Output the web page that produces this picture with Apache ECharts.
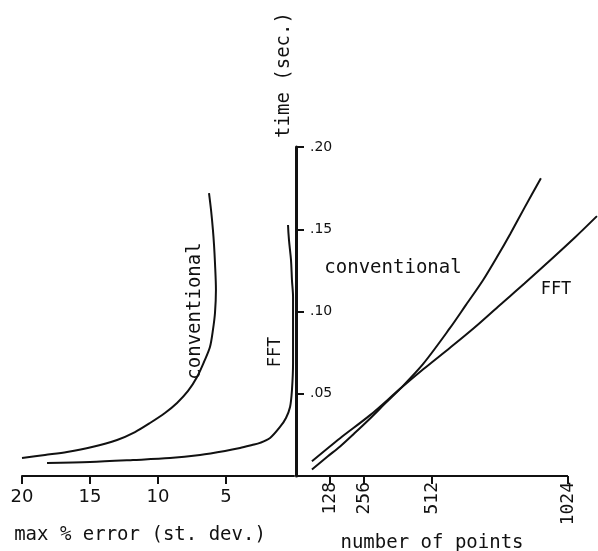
<!DOCTYPE html>
<html>
<head>
    <meta charset="utf-8"/>
    <title>FFT vs conventional</title>
    <script src="https://cdn.jsdelivr.net/npm/echarts@6/dist/echarts.min.js"></script>
    <style>
        html, body { margin: 0; padding: 0; background: #fff; }
        #main { width: 598px; height: 551px; }
    </style>
</head>
<body>
<div id="main"></div>
<script>
    // tick positions
    var timeTicks = [0.05, 0.10, 0.15, 0.20];
    var errTicks = [20, 15, 10, 5];
    var pointTicks = [128, 256, 512, 1024];

    // left panel: [max % error, time]
    var convError = [[20, 0.0109], [18.31, 0.0128], [16.69, 0.0146], [14.85, 0.0176], [13.01, 0.0219],
        [11.69, 0.0267], [10.59, 0.0322], [9.49, 0.0383], [8.60, 0.0444], [7.79, 0.0517], [7.13, 0.0602],
        [6.62, 0.0693], [6.18, 0.0784], [5.96, 0.0888], [5.81, 0.0991], [5.74, 0.1131], [5.81, 0.1295],
        [5.88, 0.1404], [5.96, 0.1495], [6.10, 0.1617], [6.25, 0.1720]];
    var fftError = [[18.16, 0.0079], [15.0, 0.0085], [11.84, 0.0097], [9.12, 0.0109], [6.91, 0.0128],
        [5.07, 0.0152], [3.97, 0.0170], [3.09, 0.0188], [2.50, 0.0201], [1.76, 0.0231], [1.03, 0.0298],
        [0.59, 0.0353], [0.29, 0.0419], [0.15, 0.0523], [0.07, 0.0687], [0.07, 0.0888], [0.07, 0.1088],
        [0.15, 0.1191], [0.22, 0.1313], [0.37, 0.1435], [0.44, 0.1526]];

    // right panel: [number of points, time]
    var convPoints = [[60, 0.004], [120, 0.012], [166, 0.018], [220, 0.026], [279, 0.035], [335, 0.044],
        [392, 0.053], [478, 0.068], [580, 0.090], [640, 0.104], [704, 0.119], [760, 0.134], [806, 0.147],
        [860, 0.163], [922, 0.181]];
    var fftPoints = [[60, 0.009], [166, 0.023], [279, 0.037], [392, 0.053], [480, 0.065], [580, 0.078],
        [670, 0.090], [768, 0.104], [860, 0.117], [956, 0.131], [1050, 0.145], [1133, 0.158]];

    var mono = 'DejaVu Sans Mono';
    var black = '#111';

    var chart = echarts.init(document.getElementById('main'));
    var lineStyle = {color: black, width: 2};

    var option = {
        backgroundColor: '#fff',
        animation: false,
        grid: [
            {left: 22, right: 304, top: 147, bottom: 75, containLabel: false, outerBoundsMode: 'none'},
            {left: 296, right: 0, top: 147, bottom: 75, containLabel: false, outerBoundsMode: 'none'}
        ],
        xAxis: [
            {
                gridIndex: 0, type: 'value', inverse: true, min: 0, max: 20,
                splitLine: {show: false},
                axisLine: {lineStyle: {color: black, width: 2}},
                axisTick: {length: 8, customValues: errTicks, lineStyle: {color: black, width: 2}},
                axisLabel: {
                    color: black, fontSize: 18, fontFamily: 'DejaVu Sans', margin: 12,
                    customValues: errTicks
                },
                name: 'max % error (st. dev.)', nameLocation: 'middle', nameGap: 50,
                nameTextStyle: {color: black, fontSize: 19, fontFamily: mono, padding: [0, 36, 0, 0]}
            },
            {
                // axis runs past 1024 so the FFT line can reach the right edge
                gridIndex: 1, type: 'value', min: 0, max: 1137,
                splitLine: {show: false},
                axisLine: {show: false},
                axisTick: {show: true, length: 8, customValues: pointTicks, lineStyle: {color: black, width: 2}},
                axisLabel: {
                    color: black, fontSize: 18, fontFamily: mono, rotate: 90, margin: 6,
                    customValues: pointTicks,
                    formatter: function (v) { return String(v); }
                },
                name: 'number of points', nameLocation: 'middle', nameGap: 54,
                nameTextStyle: {color: black, fontSize: 19, fontFamily: mono, padding: [0, 30, 0, 0]}
            }
        ],
        yAxis: [
            {gridIndex: 0, type: 'value', min: 0, max: 0.2, show: false},
            {
                gridIndex: 1, type: 'value', min: 0, max: 0.2, interval: 0.05,
                splitLine: {show: false},
                axisLine: {show: true, lineStyle: {color: black, width: 3}},
                axisTick: {show: true, inside: true, length: 8, lineStyle: {color: black, width: 2}},
                axisLabel: {
                    inside: true, color: black, fontSize: 14, fontFamily: 'DejaVu Sans', margin: 14,
                    formatter: function (v) {
                        if (v === 0) return '';
                        return '.' + String(Math.round(v * 100)).padStart(2, '0');
                    }
                }
            }
        ],
        series: [
            {name: 'conventional', type: 'line', xAxisIndex: 0, yAxisIndex: 0, data: convError,
                smooth: 0.3, showSymbol: false, clip: false, lineStyle: lineStyle},
            {name: 'FFT', type: 'line', xAxisIndex: 0, yAxisIndex: 0, data: fftError,
                smooth: 0.3, showSymbol: false, clip: false, lineStyle: lineStyle},
            {name: 'conventional', type: 'line', xAxisIndex: 1, yAxisIndex: 1, data: convPoints,
                smooth: 0.3, showSymbol: false, clip: false, lineStyle: lineStyle},
            {name: 'FFT', type: 'line', xAxisIndex: 1, yAxisIndex: 1, data: fftPoints,
                smooth: 0.3, showSymbol: false, clip: false, lineStyle: lineStyle,
                // x axis line only goes from 0 to 1024
                markLine: {
                    silent: true, symbol: 'none', label: {show: false},
                    lineStyle: {color: black, width: 2, type: 'solid'},
                    data: [[{coord: [0, 0]}, {coord: [1024, 0]}]]
                }}
        ],
        graphic: [
            {type: 'text', x: 284, y: 75, rotation: Math.PI / 2,
                style: {text: 'time (sec.)', font: '19px "DejaVu Sans Mono"', fill: black, align: 'center', verticalAlign: 'middle'}},
            {type: 'text', x: 195, y: 311, rotation: Math.PI / 2,
                style: {text: 'conventional', font: '19px "DejaVu Sans Mono"', fill: black, align: 'center', verticalAlign: 'middle'}},
            {type: 'text', x: 276, y: 352, rotation: Math.PI / 2,
                style: {text: 'FFT', font: '17px "DejaVu Sans Mono"', fill: black, align: 'center', verticalAlign: 'middle'}},
            {type: 'text', x: 393, y: 268,
                style: {text: 'conventional', font: '19px "DejaVu Sans Mono"', fill: black, align: 'center', verticalAlign: 'middle'}},
            {type: 'text', x: 556, y: 290,
                style: {text: 'FFT', font: '17px "DejaVu Sans Mono"', fill: black, align: 'center', verticalAlign: 'middle'}}
        ]
    };
    chart.setOption(option);

    window.onresize = function () {
        chart.resize();
    };
</script>
</body>
</html>
